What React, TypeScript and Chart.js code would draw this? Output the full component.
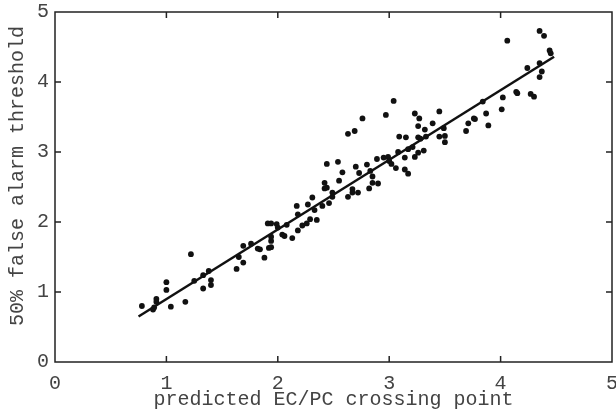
import React, { useEffect, useRef } from 'react';
import { Chart, registerables } from 'chart.js';

Chart.register(...registerables);

// Scatter observations (predicted crossing point, 50% threshold)
const xValues = [
  0.78, 0.88, 0.89, 0.91, 0.91, 1.00, 1.00, 1.04, 1.17, 1.22,
  1.25, 1.33, 1.33, 1.38, 1.40, 1.40, 1.63, 1.65, 1.69, 1.69,
  1.76, 1.82, 1.84, 1.88, 1.92, 1.94, 1.94, 1.94, 1.91, 1.94,
  1.99, 2.00, 2.04, 2.06, 2.08, 2.13, 2.17, 2.18, 2.18, 2.22,
  2.26, 2.27, 2.29, 2.31, 2.33, 2.35, 2.40, 2.42, 2.42, 2.44,
  2.44, 2.46, 2.49, 2.49, 2.54, 2.55, 2.58, 2.63, 2.69, 2.63,
  2.67, 2.67, 2.70, 2.72, 2.73, 2.76, 2.80, 2.82, 2.83, 2.85,
  2.85, 2.90, 2.89, 2.95, 2.97, 2.99, 3.00, 3.02, 3.04, 3.06,
  3.08, 3.09, 3.14, 3.14, 3.15, 3.17, 3.17, 3.21, 3.23, 3.27,
  3.26, 3.26, 3.28, 3.32, 3.33, 3.39, 3.45, 3.45, 3.49, 3.50,
  3.50, 3.23, 3.26, 3.31, 3.69, 3.71, 3.76, 3.77, 3.84, 3.87,
  3.89, 4.01, 4.02, 4.14, 4.15, 4.06, 4.27, 4.30, 4.24, 4.35,
  4.35, 4.37, 4.35, 4.39, 4.44, 4.45,
];
const yValues = [
  0.80, 0.75, 0.78, 0.90, 0.86, 1.14, 1.03, 0.79, 0.86, 1.54,
  1.16, 1.24, 1.05, 1.30, 1.17, 1.10, 1.33, 1.50, 1.66, 1.42,
  1.69, 1.62, 1.61, 1.49, 1.63, 1.64, 1.73, 1.79, 1.98, 1.98,
  1.97, 1.92, 1.82, 1.80, 1.96, 1.77, 2.23, 2.11, 1.88, 1.95,
  1.98, 2.25, 2.04, 2.35, 2.17, 2.03, 2.23, 2.56, 2.48, 2.49,
  2.83, 2.27, 2.42, 2.36, 2.86, 2.59, 2.71, 3.26, 3.30, 2.36,
  2.47, 2.42, 2.79, 2.42, 2.70, 3.48, 2.82, 2.48, 2.73, 2.65,
  2.56, 2.55, 2.90, 2.92, 3.53, 2.93, 2.87, 2.83, 3.73, 2.77,
  3.00, 3.22, 2.92, 2.75, 3.21, 3.04, 2.69, 3.07, 3.55, 3.48,
  3.37, 3.21, 3.19, 3.32, 3.22, 3.41, 3.58, 3.22, 3.34, 3.23,
  3.14, 2.93, 2.99, 3.02, 3.30, 3.41, 3.48, 3.47, 3.72, 3.55,
  3.38, 3.61, 3.78, 3.86, 3.84, 4.59, 3.83, 3.79, 4.20, 4.07,
  4.27, 4.15, 4.73, 4.66, 4.45, 4.41,
];

// Fitted regression line end points
const fitX = [0.75, 4.48];
const fitY = [0.65, 4.36];

// Axis definitions
const axisMin = 0;
const axisMax = 5;
const axisStep = 1;
const xTitle = 'predicted EC/PC crossing point';
const yTitle = '50% false alarm threshold';

const FONT = '"Liberation Mono", "DejaVu Sans Mono", monospace';
const TEXT = '#444444';
const INK = '#111111';

const framePlugin = {
  id: 'boxFrame',
  afterDatasetsDraw(chart: any) {
    const { ctx, chartArea } = chart;
    const { left, right, top, bottom } = chartArea;
    const xs = chart.scales.x;
    const ys = chart.scales.y;
    ctx.save();
    ctx.strokeStyle = '#222';
    ctx.lineWidth = 1.5;
    ctx.strokeRect(left, top, right - left, bottom - top);
    ctx.beginPath();
    const len = 6;
    xs.ticks.forEach((t: any) => {
      if (t.value <= axisMin || t.value >= axisMax) return;
      const px = xs.getPixelForValue(t.value);
      ctx.moveTo(px, bottom);
      ctx.lineTo(px, bottom - len);
      ctx.moveTo(px, top);
      ctx.lineTo(px, top + len);
    });
    ys.ticks.forEach((t: any) => {
      if (t.value <= axisMin || t.value >= axisMax) return;
      const py = ys.getPixelForValue(t.value);
      ctx.moveTo(left, py);
      ctx.lineTo(left + len, py);
      ctx.moveTo(right, py);
      ctx.lineTo(right - len, py);
    });
    ctx.stroke();

    // vertical axis title
    ctx.translate(18, (top + bottom) / 2 - 11);
    ctx.rotate(-Math.PI / 2);
    ctx.fillStyle = TEXT;
    ctx.font = `20px ${FONT}`;
    ctx.textAlign = 'center';
    ctx.textBaseline = 'middle';
    ctx.fillText(yTitle, 0, 0);
    ctx.restore();
  },
};

export default function App() {
  const canvasRef = useRef<HTMLCanvasElement | null>(null);

  useEffect(() => {
    if (!canvasRef.current) return;
    const points = xValues.map((x, i) => ({ x, y: yValues[i] }));
    const fit = fitX.map((x, i) => ({ x, y: fitY[i] }));
    const chart = new Chart(canvasRef.current, {
      type: 'scatter',
      data: {
        datasets: [
          {
            type: 'line',
            data: fit,
            borderColor: INK,
            borderWidth: 2.5,
            pointRadius: 0,
            fill: false,
          } as any,
          {
            type: 'scatter',
            data: points,
            backgroundColor: INK,
            borderWidth: 0,
            pointRadius: 2.9,
          },
        ],
      },
      options: {
        animation: false,
        responsive: false,
        maintainAspectRatio: false,
        layout: { padding: { top: 12, right: 3, left: 0, bottom: 0 } },
        plugins: { legend: { display: false }, tooltip: { enabled: false } },
        scales: {
          x: {
            type: 'linear',
            min: axisMin,
            max: axisMax,
            ticks: {
              stepSize: axisStep,
              color: TEXT,
              font: { family: FONT, size: 20 },
              padding: 10,
              maxRotation: 0,
            },
            grid: { display: false, drawTicks: false },
            border: { display: false },
            title: {
              display: true,
              text: xTitle,
              color: TEXT,
              font: { family: FONT, size: 20 },
              padding: { top: 0, bottom: 0 },
            },
            afterFit: (s: any) => {
              s.height = 50;
              s.paddingLeft = 0;
              s.paddingRight = 0;
            },
          },
          y: {
            type: 'linear',
            min: axisMin,
            max: axisMax,
            ticks: {
              stepSize: axisStep,
              color: TEXT,
              font: { family: FONT, size: 20 },
              padding: 6,
            },
            grid: { display: false, drawTicks: false },
            border: { display: false },
            title: { display: false, text: yTitle },
            afterFit: (s: any) => {
              s.width = 55;
              s.paddingTop = 0;
              s.paddingBottom = 0;
            },
          },
        },
      },
      plugins: [framePlugin],
    });
    return () => chart.destroy();
  }, []);

  return (
    <div style={{ position: 'fixed', left: 0, top: 0, width: 616, height: 412, background: '#fff' }}>
      <canvas ref={canvasRef} width={616} height={412} style={{ width: 616, height: 412 }} />
    </div>
  );
}
